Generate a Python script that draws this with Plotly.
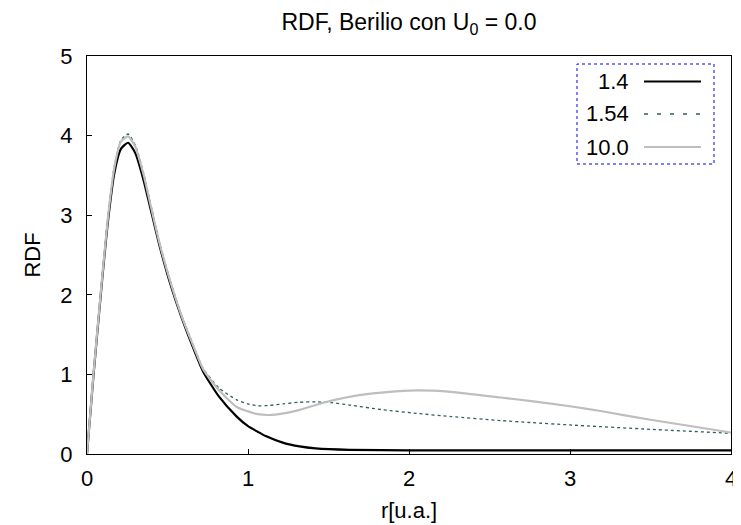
import plotly.graph_objects as go

# ---- data ----
r_14 = [0, 0.04, 0.09, 0.13, 0.17, 0.21, 0.255, 0.30, 0.35, 0.39, 0.45, 0.52, 0.59, 0.67, 0.72,
        0.82, 0.93, 1.0, 1.06, 1.11, 1.22, 1.32, 1.42, 1.63, 2.0, 3.0, 4.0]
rdf_14 = [0, 0.98, 2.1, 2.92, 3.53, 3.83, 3.91, 3.78, 3.45, 3.12, 2.62, 2.12, 1.70, 1.28, 1.04,
          0.72, 0.47, 0.35, 0.28, 0.225, 0.14, 0.095, 0.07, 0.052, 0.046, 0.045, 0.045]

r_154 = [0, 0.04, 0.09, 0.13, 0.17, 0.21, 0.255, 0.30, 0.35, 0.39, 0.45, 0.52, 0.59, 0.67, 0.72,
         0.82, 0.93, 1.0, 1.06, 1.13, 1.22, 1.32, 1.42, 1.52, 1.63, 1.84, 2.05, 2.26, 2.57, 2.76,
         3.0, 3.5, 4.0]
rdf_154 = [0, 1.0, 2.14, 2.99, 3.62, 3.94, 4.02, 3.88, 3.54, 3.19, 2.66, 2.16, 1.73, 1.32, 1.08,
           0.83, 0.68, 0.63, 0.605, 0.61, 0.63, 0.65, 0.655, 0.645, 0.615, 0.555, 0.51, 0.47, 0.42, 0.395,
           0.365, 0.31, 0.26]

r_10 = [0, 0.04, 0.09, 0.13, 0.17, 0.21, 0.255, 0.30, 0.35, 0.39, 0.45, 0.52, 0.59, 0.67, 0.72,
        0.82, 0.93, 1.0, 1.06, 1.13, 1.22, 1.32, 1.48, 1.69, 1.94, 2.05, 2.15, 2.26, 2.57, 2.76,
        3.0, 3.19, 3.5, 4.0]
rdf_10 = [0, 1.0, 2.13, 2.97, 3.60, 3.92, 3.99, 3.86, 3.52, 3.17, 2.65, 2.15, 1.72, 1.31, 1.07,
          0.80, 0.59, 0.535, 0.50, 0.49, 0.51, 0.555, 0.65, 0.74, 0.79, 0.80, 0.795, 0.78, 0.71, 0.665,
          0.60, 0.54, 0.43, 0.27]

labels = ["1.4", "1.54", "10.0"]
colors = ["#000000", "#2f5f5f", "#bebebe"]
dashes = ["solid", "3px,3px", "solid"]
widths = [2.2, 1.3, 2.2]

x_ticks = [0, 1, 2, 3, 4]
y_ticks = [0, 1, 2, 3, 4, 5]

FONT = "Liberation Sans, Arial, Helvetica, sans-serif"
FS = 22

fig = go.Figure()
series = [(r_14, rdf_14), (r_154, rdf_154), (r_10, rdf_10)]
for (xs, ys), lab, c, d, w in zip(series, labels, colors, dashes, widths):
    fig.add_trace(go.Scatter(x=xs, y=ys, mode="lines", name=lab,
                             line=dict(color=c, dash=d, width=w, shape="spline", smoothing=0.6),
                             showlegend=False))

# page body has an 8px offset; margins compensate so the plot frame lands at
# x 87..731, y 56..454 in the window
OFF = 8
L, T = 87, 56
R_EDGE, B_EDGE = 731, 454
plot_w, plot_h = R_EDGE - L, B_EDGE - T

def px(xp):  # window pixel x -> paper
    return (xp - L) / plot_w
def py(yp):  # window pixel y -> paper
    return (B_EDGE - yp) / plot_h

# ---- gnuplot-style legend: right-aligned text, sample line to its right ----
fig.add_shape(type="rect", xref="paper", yref="paper",
              x0=px(577), x1=px(714), y0=py(164), y1=py(64),
              line=dict(color="#0000ff", width=1, dash="dot"))
for i, (lab, c, d, w) in enumerate(zip(labels, colors, dashes, widths)):
    yy = [81.5, 114, 147][i]
    fig.add_annotation(x=px(631), y=py(yy), xref="paper", yref="paper", text=lab,
                       showarrow=False, xanchor="right", yanchor="middle",
                       font=dict(family=FONT, size=FS, color="#000"))
    fig.add_shape(type="line", xref="paper", yref="paper",
                  x0=px(644), x1=px(701), y0=py(yy), y1=py(yy),
                  line=dict(color=c, width=w, dash=("4px,9px" if d != "solid" else "solid")))

fig.update_layout(
    width=741, height=525,
    margin=dict(l=L - OFF, r=741 + OFF - R_EDGE, t=T - OFF, b=525 + OFF - B_EDGE),
    paper_bgcolor="white", plot_bgcolor="white",
    font=dict(family=FONT, size=FS, color="#000"),
    title=dict(text="RDF, Berilio con U<sub>0</sub> = 0.0", x=(409 - OFF) / 741, xanchor="center",
               y=1 - (22 - OFF) / 525, yanchor="middle", yref="container",
               font=dict(family=FONT, size=23, color="#000")),
)
fig.update_xaxes(range=[0, 4], tickvals=x_ticks, ticktext=[str(v) for v in x_ticks],
                 ticks="inside", ticklen=5, tickcolor="#000", showgrid=False, zeroline=False,
                 showline=True, linecolor="#000", linewidth=1.3, mirror=True,
                 tickfont=dict(size=FS), ticklabelstandoff=4,
                 title=dict(text="r[u.a.]", font=dict(size=FS), standoff=13))
fig.update_yaxes(range=[0, 5], tickvals=y_ticks, ticktext=[str(v) for v in y_ticks],
                 ticks="inside", ticklen=5, tickcolor="#000", showgrid=False, zeroline=False,
                 showline=True, linecolor="#000", linewidth=1.3, mirror=True,
                 tickfont=dict(size=FS), ticklabelstandoff=9,
                 title=dict(text="RDF", font=dict(size=FS), standoff=13))

fig.write_html("out.html")
